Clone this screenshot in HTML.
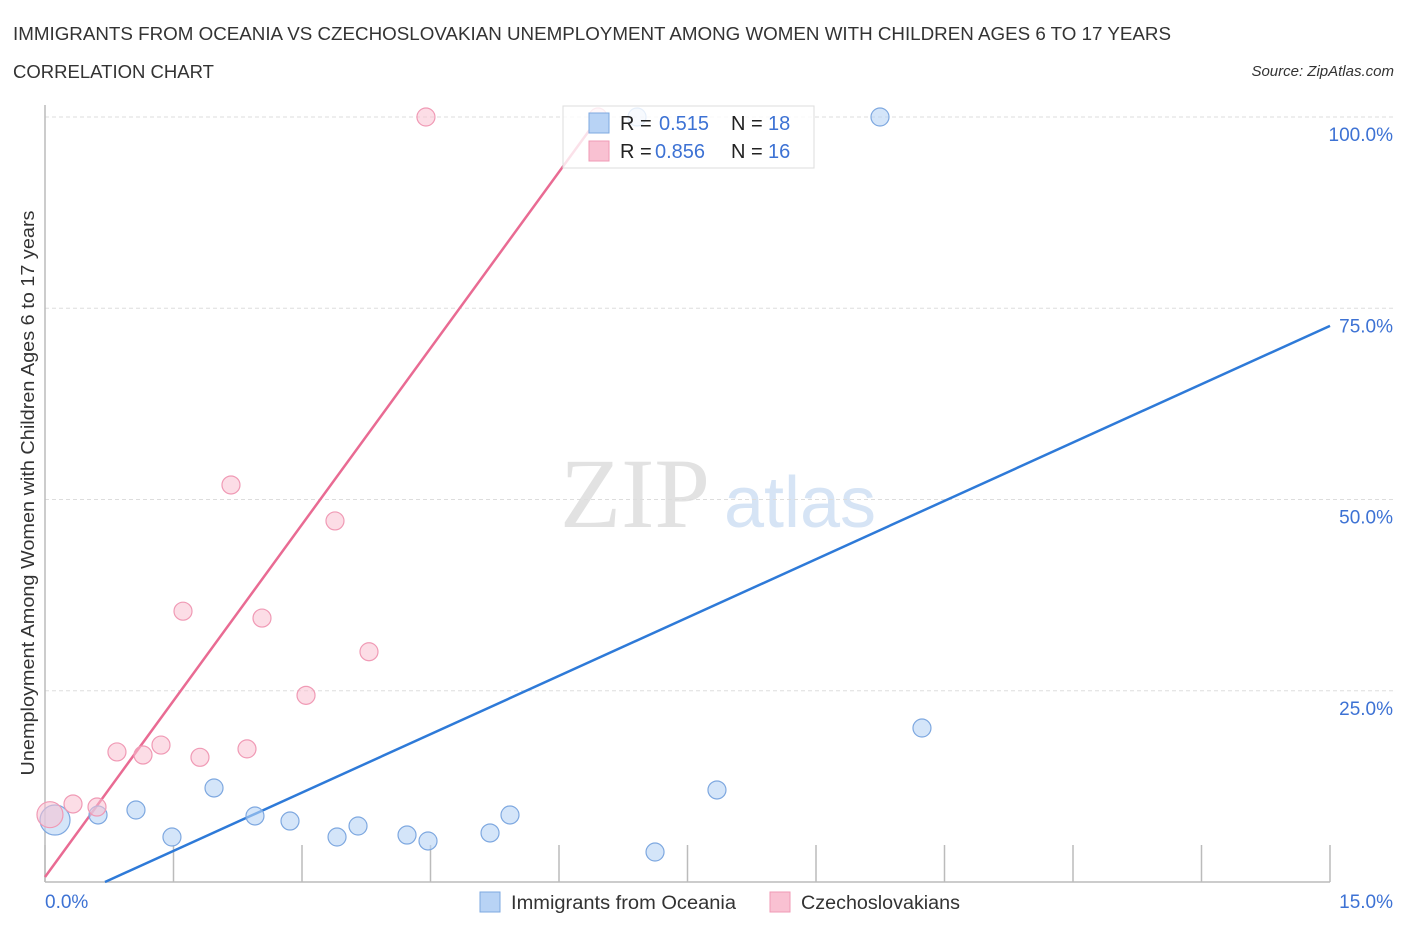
<!DOCTYPE html>
<html><head><meta charset="utf-8">
<style>
body{margin:0;background:#fff;font-family:"Liberation Sans",sans-serif;}
svg text{font-family:"Liberation Sans",sans-serif;}
svg text.serif{font-family:"Liberation Serif",serif;}
</style></head>
<body>
<svg id="chart" width="1406" height="930" xmlns="http://www.w3.org/2000/svg">
<text x="13" y="40" font-size="18.8" fill="#333" textLength="1158" lengthAdjust="spacingAndGlyphs">IMMIGRANTS FROM OCEANIA VS CZECHOSLOVAKIAN UNEMPLOYMENT AMONG WOMEN WITH CHILDREN AGES 6 TO 17 YEARS</text>
<text x="13" y="78" font-size="18.5" fill="#333" textLength="201" lengthAdjust="spacingAndGlyphs">CORRELATION CHART</text>
<text x="1394" y="76" font-size="15" fill="#333" font-style="italic" text-anchor="end">Source: ZipAtlas.com</text>
<text transform="translate(34,493) rotate(-90)" font-size="18" fill="#333" text-anchor="middle" textLength="565" lengthAdjust="spacingAndGlyphs">Unemployment Among Women with Children Ages 6 to 17 years</text>
<g>
<text class="serif" x="635" y="527" font-size="100" fill="#e2e2e2" text-anchor="middle">ZIP</text>
<text x="800" y="527" font-size="72" fill="#d6e4f5" text-anchor="middle">atlas</text>
</g>
<g id="grid"></g>
<g id="axes"></g>
<g id="lines"></g>
<g id="points"></g>
<g>
<rect x="563" y="106" width="251" height="62" fill="#fff" fill-opacity="0.8" stroke="#ddd"/>
<rect x="589" y="113" width="20" height="20" fill="#b8d3f5" stroke="#7ea8e0"/>
<rect x="589" y="141" width="20" height="20" fill="#f9c1d2" stroke="#f09ab5"/>
<text x="620" y="130" font-size="20" fill="#222">R = </text>
<text x="659" y="130" font-size="20" fill="#3d72d4">0.515</text>
<text x="731" y="130" font-size="20" fill="#222">N = </text>
<text x="768" y="130" font-size="20" fill="#3d72d4">18</text>
<text x="620" y="158" font-size="20" fill="#222">R = </text>
<text x="655" y="158" font-size="20" fill="#3d72d4">0.856</text>
<text x="731" y="158" font-size="20" fill="#222">N = </text>
<text x="768" y="158" font-size="20" fill="#3d72d4">16</text>
</g>
<g>
<rect x="480" y="892" width="20" height="20" fill="#b8d3f5" stroke="#7ea8e0"/>
<text x="511" y="909" font-size="19" fill="#333" textLength="225" lengthAdjust="spacingAndGlyphs">Immigrants from Oceania</text>
<rect x="770" y="892" width="20" height="20" fill="#f9c1d2" stroke="#f09ab5"/>
<text x="801" y="909" font-size="19" fill="#333" textLength="159" lengthAdjust="spacingAndGlyphs">Czechoslovakians</text>
</g>
</svg>
<script>
const blueX=[0.619,1.062,1.482,1.973,2.451,2.860,3.409,3.654,4.226,4.471,5.195,5.428,7.121,7.844,10.237,9.747,6.911,0.117];
const blueY=[8.76,9.41,5.88,12.29,8.63,7.97,5.88,7.32,6.14,5.36,6.41,8.76,3.92,12.03,20.13,100,100,8.1];
const blueR=[9,9,9,9,9,9,9,9,9,9,9,9,9,9,9,9,9,15];
const pinkX=[4.447,2.171,3.385,1.611,2.533,3.782,3.047,0.840,1.144,1.354,1.809,2.358,0.327,0.607,6.455,0.058];
const pinkY=[100,51.9,47.2,35.4,34.5,30.1,24.4,17.0,16.6,17.9,16.3,17.4,10.2,9.8,100,8.8];
const blueLine=[[0.7,0],[15,72.7]];
const pinkLine=[[0,0.65],[6.5,100.5]];
const yTicks=[25,50,75,100];
const yTickLabels=["25.0%","50.0%","75.0%","100.0%"];
const xTicks=[0,1.5,3,4.5,6,7.5,9,10.5,12,13.5,15];
const NS="http://www.w3.org/2000/svg";
const X=v=>45+v/15*1285, Y=v=>882-v/100*765;
function mk(tag,attrs,parent){const e=document.createElementNS(NS,tag);for(const k in attrs)e.setAttribute(k,attrs[k]);document.getElementById(parent).appendChild(e);return e;}
yTicks.forEach((t,i)=>{
 let g=mk('line',{x1:45,x2:1393,y1:Y(t),y2:Y(t),stroke:'#ddd','stroke-dasharray':'4,3'},'grid');
 
 
 let l=mk('text',{x:1393,y:Y(t)+24,'font-size':19,fill:'#3d72d4','text-anchor':'end'},'grid');
 l.textContent=yTickLabels[i];
 
 
});
let ax=mk('line',{x1:45,x2:1330,y1:882,y2:882,stroke:'#bbb','stroke-width':1.5},'axes');


let ay=mk('line',{x1:45,x2:45,y1:105,y2:882,stroke:'#bbb','stroke-width':1.5},'axes');


xTicks.forEach(t=>{
 let k=mk('line',{x1:X(t),x2:X(t),y1:845,y2:882,stroke:'#bbb','stroke-width':1.5},'axes');
 
 
});
let xl0=mk('text',{x:45,y:908,'font-size':19,fill:'#3d72d4'},'axes');xl0.textContent='0.0%';


let xl1=mk('text',{x:1393,y:908,'font-size':19,fill:'#3d72d4','text-anchor':'end'},'axes');xl1.textContent='15.0%';


blueX.forEach((v,i)=>{
 let c=mk('circle',{cx:X(v),cy:Y(blueY[i]),r:blueR[i],fill:'#b8d3f5','fill-opacity':0.6,stroke:'#7ea8e0','stroke-width':1.2},'points');
 
 
});
pinkX.forEach((v,i)=>{
 let c=mk('circle',{cx:X(v),cy:Y(pinkY[i]),r:i==15?13:9,fill:'#f9c1d2','fill-opacity':0.55,stroke:'#f09ab5','stroke-width':1.2},'points');
 
 
});
let bl=mk('line',{x1:X(blueLine[0][0]),y1:Y(blueLine[0][1]),x2:X(blueLine[1][0]),y2:Y(blueLine[1][1]),stroke:'#2e7ad8','stroke-width':2.5},'lines');


let pl=mk('line',{x1:X(pinkLine[0][0]),y1:Y(pinkLine[0][1]),x2:X(pinkLine[1][0]),y2:Y(pinkLine[1][1]),stroke:'#e96b93','stroke-width':2.5},'lines');


</script>
</body></html>
